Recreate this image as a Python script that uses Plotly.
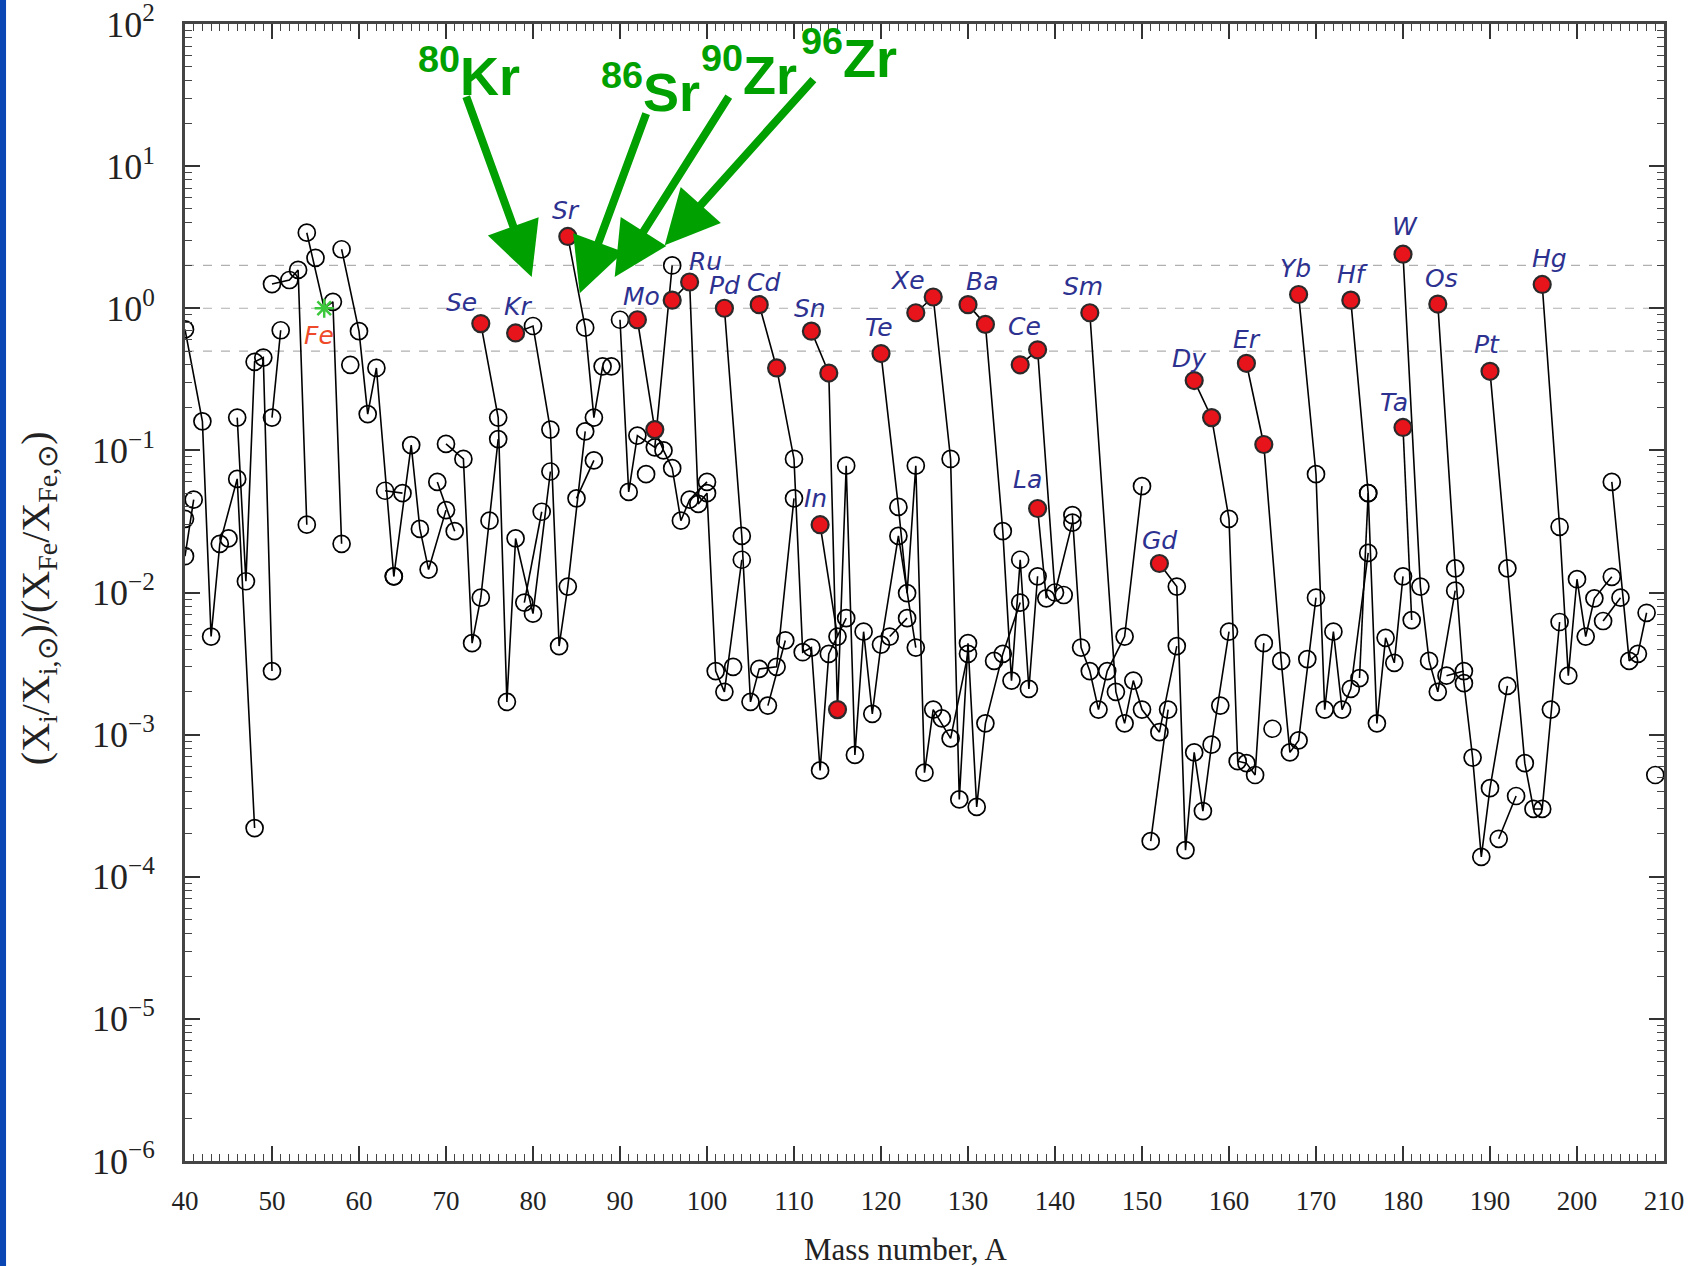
import math
import plotly.graph_objects as go

# ---------------- data: isotope (element, mass number A, ratio) ----------------
iso_element = (
    ["Ar"] + ["K", "K"] +
    ["Ca"] * 6 + ["Sc"] + ["Ti"] * 5 + ["V"] * 2 + ["Cr"] * 4 + ["Mn"] + ["Fe"] * 4 +
    ["Co"] + ["Ni"] * 5 + ["Cu"] * 2 + ["Zn"] * 5 + ["Ga"] * 2 + ["Ge"] * 5 + ["As"] +
    ["Se"] * 6 + ["Br"] * 2 + ["Kr"] * 6 + ["Rb"] * 2 + ["Sr"] * 4 + ["Y"] + ["Zr"] * 5 +
    ["Nb"] + ["Mo"] * 7 + ["Ru"] * 7 + ["Rh"] + ["Pd"] * 6 + ["Ag"] * 2 + ["Cd"] * 8 +
    ["In"] * 2 + ["Sn"] * 10 + ["Sb"] * 2 + ["Te"] * 8 + ["I"] + ["Xe"] * 9 + ["Cs"] +
    ["Ba"] * 7 + ["La"] * 2 + ["Ce"] * 4 + ["Pr"] + ["Nd"] * 7 + ["Sm"] * 7 + ["Eu"] * 2 +
    ["Gd"] * 7 + ["Tb"] + ["Dy"] * 7 + ["Ho"] + ["Er"] * 6 + ["Tm"] + ["Yb"] * 7 +
    ["Lu"] * 2 + ["Hf"] * 6 + ["Ta"] * 2 + ["W"] * 5 + ["Re"] * 2 + ["Os"] * 7 +
    ["Ir"] * 2 + ["Pt"] * 6 + ["Au"] + ["Hg"] * 7 + ["Tl"] * 2 + ["Pb"] * 4 + ["Bi"]
)

iso_mass = [
    40, 40, 41,
    40, 42, 43, 44, 46, 48,  45,  46, 47, 48, 49, 50,  50, 51,  50, 52, 53, 54,  55,  54, 56, 57, 58,
    59,  58, 60, 61, 62, 64,  63, 65,  64, 66, 67, 68, 70,  69, 71,  70, 72, 73, 74, 76,  75,
    74, 76, 77, 78, 80, 82,  79, 81,  78, 80, 82, 83, 84, 86,  85, 87,  84, 86, 87, 88,  89,
    90, 91, 92, 94, 96,  93,  92, 94, 95, 96, 97, 98, 100,  96, 98, 99, 100, 101, 102, 104,  103,
    102, 104, 105, 106, 108, 110,  107, 109,  106, 108, 110, 111, 112, 113, 114, 116,
    113, 115,  112, 114, 115, 116, 117, 118, 119, 120, 122, 124,  121, 123,
    120, 122, 123, 124, 125, 126, 128, 130,  127,  124, 126, 128, 129, 130, 131, 132, 134, 136,  133,
    130, 132, 134, 135, 136, 137, 138,  138, 139,  136, 138, 140, 142,  141,
    142, 143, 144, 145, 146, 148, 150,  144, 147, 148, 149, 150, 152, 154,  151, 153,
    152, 154, 155, 156, 157, 158, 160,  159,  156, 158, 160, 161, 162, 163, 164,  165,
    162, 164, 166, 167, 168, 170,  169,  168, 170, 171, 172, 173, 174, 176,  175, 176,
    174, 176, 177, 178, 179, 180,  180, 181,  180, 182, 183, 184, 186,  185, 187,
    184, 186, 187, 188, 189, 190, 192,  191, 193,  190, 192, 194, 195, 196, 198,  197,
    196, 198, 199, 200, 201, 202, 204,  203, 205,  204, 206, 207, 208,  209,
]

iso_ratio = [
    0.033, 0.018, 0.045,
    0.71, 0.16, 0.0049, 0.022, 0.063, 0.00022,  0.024,  0.17, 0.012, 0.42, 0.45, 0.0028,
    0.17, 0.70,  1.48, 1.58, 1.86, 0.030,  2.26,  3.4, 1.0, 1.11, 0.022,
    0.40,  2.6, 0.69, 0.18, 0.38, 0.013,  0.052, 0.050,  0.013, 0.109, 0.028, 0.0145, 0.038,
    0.060, 0.027,  0.111, 0.087, 0.0044, 0.0092, 0.12,  0.032,
    0.78, 0.17, 0.0017, 0.024, 0.0071, 0.071,  0.0085, 0.037,  0.67, 0.75, 0.14, 0.0042, 0.011, 0.136,
    0.046, 0.085,  3.2, 0.73, 0.17, 0.39,  0.39,
    0.83, 0.051, 0.127, 0.105, 2.0,  0.068,  0.83, 0.14, 0.10, 0.075, 0.032, 0.045, 0.060,
    1.14, 1.53, 0.042, 0.050, 0.0028, 0.0020, 0.017,  0.0030,
    1.0, 0.025, 0.0017, 0.0029, 0.0030, 0.046,  0.0016, 0.0046,
    1.06, 0.38, 0.087, 0.0038, 0.0041, 0.00056, 0.0037, 0.0066,
    0.030, 0.0049,  0.69, 0.35, 0.0015, 0.078, 0.00072, 0.0053, 0.0014, 0.0043, 0.025, 0.0041,
    0.0049, 0.0066,
    0.48, 0.040, 0.0099, 0.078, 0.00054, 0.0015, 0.00094, 0.0037,  0.0013,
    0.93, 1.2, 0.087, 0.00035, 0.0044, 0.00031, 0.0012, 0.0037, 0.0085,  0.0033,
    1.06, 0.77, 0.027, 0.0024, 0.017, 0.0021, 0.013,  0.039, 0.0091,  0.40, 0.51, 0.010, 0.031,
    0.0096,
    0.035, 0.0041, 0.0028, 0.0015, 0.0028, 0.0049, 0.056,
    0.93, 0.0020, 0.0012, 0.0024, 0.0015, 0.00104, 0.0042,  0.000178, 0.0015,
    0.016, 0.011, 0.000154, 0.00075, 0.00029, 0.00085, 0.0053,  0.0016,
    0.31, 0.17, 0.033, 0.00065, 0.00063, 0.00052, 0.0044,  0.0011,
    0.41, 0.11, 0.0033, 0.00075, 0.00091, 0.0092,  0.0034,
    1.25, 0.068, 0.0015, 0.0053, 0.0015, 0.0021, 0.019,  0.0025, 0.050,
    1.14, 0.050, 0.0012, 0.0048, 0.0032, 0.013,  0.145, 0.0064,
    2.4, 0.011, 0.0033, 0.0020, 0.0103,  0.0026, 0.0028,
    1.07, 0.0148, 0.0023, 0.00069, 0.000138, 0.00042, 0.0022,  0.000185, 0.00037,
    0.36, 0.0148, 0.00063, 0.0003, 0.0003, 0.0062,  0.0015,
    1.47, 0.029, 0.0026, 0.0124, 0.0049, 0.0091, 0.0129,  0.0063, 0.0092,
    0.060, 0.0033, 0.0037, 0.0072,  0.00052,
]

# p-nuclei (red filled symbols)
p_nuclei = [
    ("Se", 74), ("Kr", 78), ("Sr", 84), ("Mo", 92), ("Mo", 94), ("Ru", 96), ("Ru", 98),
    ("Pd", 102), ("Cd", 106), ("Cd", 108), ("In", 113), ("Sn", 112), ("Sn", 114), ("Sn", 115),
    ("Te", 120), ("Xe", 124), ("Xe", 126), ("Ba", 130), ("Ba", 132), ("La", 138), ("Ce", 136),
    ("Ce", 138), ("Sm", 144), ("Gd", 152), ("Dy", 156), ("Dy", 158), ("Er", 162), ("Er", 164),
    ("Yb", 168), ("Hf", 174), ("Ta", 180), ("W", 180), ("Os", 184), ("Pt", 190), ("Hg", 196),
]
reference_isotope = ("Fe", 56)

# element labels: (label, anchor isotope mass)
label_names = ["Se", "Kr", "Sr", "Mo", "Ru", "Pd", "Cd", "Sn", "In", "Te", "Xe", "Ba", "Ce",
               "La", "Sm", "Gd", "Dy", "Er", "Yb", "Hf", "Ta", "W", "Os", "Pt", "Hg"]
label_mass = [74, 78, 84, 92, 98, 102, 106, 112, 113, 120, 124, 130, 136,
              138, 144, 152, 156, 162, 168, 174, 180, 180, 184, 190, 196]

# highlighted isotopes (green call-outs)
callout_text = ["80", "86", "90", "96"]
callout_elem = ["Kr", "Sr", "Zr", "Zr"]

x_ticks = list(range(40, 211, 10))
y_exponents = list(range(-6, 3))
ref_lines = [2.0, 1.0, 0.5]

# ---------------- styles ----------------
# label offsets in pixels (dx, dy up)
label_offset = {
    "Se": (-19, 21), "Kr": (2, 26), "Sr": (-2, 26), "Mo": (4, 23), "Ru": (16, 21),
    "Pd": (0, 23), "Cd": (4, 22), "Sn": (-1, 23), "In": (-5, 26), "Te": (-2, 26),
    "Xe": (-8, 32), "Ba": (14, 23), "Ce": (4, 38), "La": (-10, 29), "Sm": (-7, 26),
    "Gd": (0, 23), "Dy": (-5, 22), "Er": (1, 24), "Yb": (-3, 26), "Hf": (2, 26),
    "Ta": (-9, 25), "W": (2, 28), "Os": (4, 26), "Pt": (-3, 27), "Hg": (7, 26),
}
# call-out geometry: text centre (A, log10 y), arrow tip (A, log10 y), tail offset (px)
callout_text_pos = [(72.6, 1.66), (93.5, 1.55), (104.8, 1.67), (116.3, 1.79)]
callout_tip = [(79.85, 0.219), (85.37, 0.106), (89.39, 0.219), (95.14, 0.444)]
callout_tail = [(-66, -182), (67, -181), (115, -182), (150, -167)]

GREEN = "#00a000"
LABEL_BLUE = "#2d3190"
RED = "#e8141c"

# ---------------- build traces ----------------
fig = go.Figure()

for v in ref_lines:
    fig.add_trace(go.Scatter(x=[40, 210], y=[v, v], mode="lines",
                             line=dict(color="#b0b0b0", width=1.2, dash="dash"),
                             hoverinfo="skip", showlegend=False))

# connecting lines per element
lx, ly = [], []
elements_order = []
for e in iso_element:
    if e not in elements_order:
        elements_order.append(e)
for e in elements_order:
    pts = sorted([(a, r) for el, a, r in zip(iso_element, iso_mass, iso_ratio) if el == e])
    if len(pts) > 1:
        lx += [p[0] for p in pts] + [None]
        ly += [p[1] for p in pts] + [None]
fig.add_trace(go.Scatter(x=lx, y=ly, mode="lines", line=dict(color="black", width=1.6),
                         connectgaps=False, hoverinfo="skip", showlegend=False))

pset = set(p_nuclei)
ox, oy, px_, py_, fx, fy = [], [], [], [], [], []
for e, a, r in zip(iso_element, iso_mass, iso_ratio):
    if (e, a) == reference_isotope:
        fx.append(a); fy.append(r)
    elif (e, a) in pset:
        px_.append(a); py_.append(r)
    else:
        ox.append(a); oy.append(r)

fig.add_trace(go.Scatter(x=ox, y=oy, mode="markers",
                         marker=dict(symbol="circle-open", size=17, color="black",
                                     line=dict(width=1.7, color="black")),
                         showlegend=False))
fig.add_trace(go.Scatter(x=px_, y=py_, mode="markers",
                         marker=dict(symbol="circle", size=17, color=RED,
                                     line=dict(width=2.2, color="#2a2a2a")),
                         showlegend=False))
fig.add_trace(go.Scatter(x=fx, y=fy, mode="markers",
                         marker=dict(symbol="asterisk-open", size=16, color="#3cc83c",
                                     line=dict(width=2.5, color="#3cc83c")),
                         showlegend=False))

ratio_of = {(e, a): r for e, a, r in zip(iso_element, iso_mass, iso_ratio)}

annotations = []
for name, a in zip(label_names, label_mass):
    dx, dy = label_offset[name]
    annotations.append(dict(x=a, y=math.log10(ratio_of[(name, a)]), xref="x", yref="y",
                            text=f"<i>{name}</i>", showarrow=False, xshift=dx, yshift=dy,
                            font=dict(family="DejaVu Sans", size=25, color=LABEL_BLUE)))
fe_r = ratio_of[reference_isotope]
annotations.append(dict(x=reference_isotope[1], y=math.log10(fe_r), xref="x", yref="y",
                        text="<i>Fe</i>", showarrow=False, xshift=-5, yshift=-27,
                        font=dict(family="DejaVu Sans", size=25, color="#ee4a2a")))

for t, el, (tx, ty), (ax_, ay_), (ox_, oy_) in zip(callout_text, callout_elem,
                                                   callout_text_pos, callout_tip, callout_tail):
    annotations.append(dict(x=ax_, y=ay_, xref="x", yref="y", ax=ox_, ay=oy_,
                            axref="pixel", ayref="pixel", text="", showarrow=True,
                            arrowhead=2, arrowsize=1.35, arrowwidth=8, arrowcolor=GREEN))
    annotations.append(dict(x=tx, y=ty, xref="x", yref="y", showarrow=False,
                            text=f"<b><sup>{t}</sup>{el}</b>",
                            font=dict(family="Liberation Sans", size=54, color=GREEN)))

# axis titles
annotations.append(dict(x=0.487, y=-0.078, xref="paper", yref="paper", showarrow=False,
                        xanchor="center", yanchor="middle",
                        text="Mass number, A",
                        font=dict(family="Liberation Serif", size=31, color="#222")))
annotations.append(dict(x=-0.0994, y=0.495, xref="paper", yref="paper", showarrow=False,
                        xanchor="center", yanchor="middle", textangle=-90,
                        text="(X<sub>i</sub>/X<sub>i,\u2299</sub>)/(X<sub>Fe</sub>/X<sub>Fe,\u2299</sub>)",
                        font=dict(family="Liberation Serif", size=40, color="#222")))

y_minor = [k * 10.0 ** e for e in range(-6, 2) for k in range(2, 10)]

fig.update_layout(
    width=1689, height=1266,
    margin=dict(l=185, r=25, t=24, b=105, autoexpand=False),
    paper_bgcolor="white", plot_bgcolor="white",
    showlegend=False,
    annotations=annotations,
    shapes=[dict(type="rect", xref="paper", yref="paper", x0=-0.2, x1=-0.121,
                 y0=-0.2, y1=1.2, fillcolor="#0a46b4", line=dict(width=0), layer="above")],
    xaxis=dict(range=[40, 210], tickvals=x_ticks, ticktext=[str(v) for v in x_ticks],
               ticks="inside", ticklen=15, tickwidth=1.5, tickcolor="#333",
               minor=dict(dtick=1, tick0=40, ticks="inside", ticklen=7, tickwidth=1, tickcolor="#444"),
               showline=True, linewidth=3, linecolor="#444", mirror="ticks",
               showgrid=False, zeroline=False, ticklabelstandoff=14, automargin=False,
               ticklabeloverflow="allow",
               tickfont=dict(family="Liberation Serif", size=27, color="#222")),
    yaxis=dict(type="log", range=[-6, 2],
               tickvals=[10.0 ** e for e in y_exponents],
               ticktext=[f"10<sup>{str(e).replace('-', '\u2212')}</sup>" for e in y_exponents],
               ticks="inside", ticklen=15, tickwidth=1.5, tickcolor="#333",
               minor=dict(tickvals=y_minor, ticks="inside", ticklen=7, tickwidth=1, tickcolor="#444"),
               showline=True, linewidth=3, linecolor="#444", mirror="ticks",
               showgrid=False, zeroline=False, ticklabelstandoff=20, automargin=False,
               ticklabeloverflow="allow",
               tickfont=dict(family="Liberation Serif", size=36, color="#222")),
)

fig.write_html("out.html", config={"displayModeBar": False},
               post_script="document.body.style.margin='0px';")
